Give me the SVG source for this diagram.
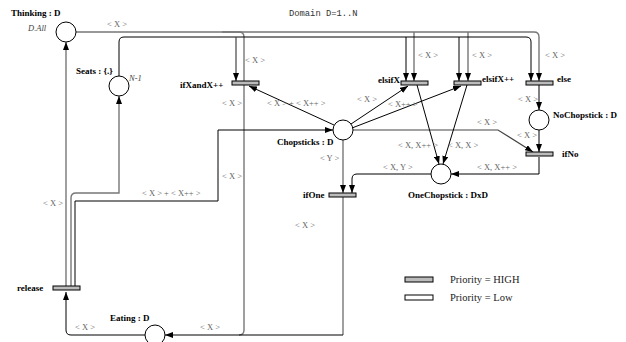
<svg xmlns="http://www.w3.org/2000/svg" width="626" height="342" viewBox="0 0 626 342">
<style>
.pl{fill:#fff;stroke:#000;stroke-width:1}
.tr{fill:#bbb;stroke:#000;stroke-width:1}
.lo{fill:#fff;stroke:#000;stroke-width:1}
.b{font-family:"Liberation Serif",serif;font-weight:bold;font-size:9px;fill:#000}
.i{font-family:"Liberation Serif",serif;font-style:italic;font-size:8.5px;fill:#444}
.l{font-family:"Liberation Serif",serif;font-size:8.5px;fill:#666}
.m{font-family:"Liberation Mono",monospace;font-size:8.8px;fill:#333}
.lg{font-family:"Liberation Serif",serif;font-size:10.5px;fill:#222}
.g{fill:none;stroke:#777;stroke-width:1.4}
.k{fill:none;stroke:#000;stroke-width:1}
.d{fill:none;stroke:#444;stroke-width:1.2}
</style>
<defs>
<marker id="a" viewBox="0 0 8 6" refX="8" refY="3" markerWidth="8" markerHeight="6" markerUnits="userSpaceOnUse" orient="auto">
<path d="M0,0 L8,3 L0,6 z" fill="#000"/>
</marker>
</defs>
<rect width="626" height="342" fill="#fff"/>
<text class="m" x="289" y="16">Domain D=1..N</text>
<g id="connectors">
<path class="g" d="M76 32 H534 Q539 32 539 37 V81" marker-end="url(#a)"/>
<path class="g" d="M414 32 V81" marker-end="url(#a)"/>
<path class="g" d="M468 32 V81" marker-end="url(#a)"/>
<path class="g" d="M222 32 H239 Q244 32 244 37 V330 Q244 335 239 335"/>
<path class="k" d="M119 76 V42 Q119 37 124 37 H526 Q531 37 531 42 V81" marker-end="url(#a)"/>
<path class="d" d="M236 37 V81" marker-end="url(#a)"/>
<path class="k" d="M406 37 V81" marker-end="url(#a)"/>
<path class="k" d="M459 37 V81" marker-end="url(#a)"/>
<path class="g" d="M66 286 V42" marker-end="url(#a)"/>
<path class="g" d="M71 286 V198 Q71 193 76 193 H119 V96" marker-end="url(#a)"/>
<path class="k" d="M75 286 V201 H218 V130 H333" marker-end="url(#a)"/>
<path class="k" d="M145 335 H71 Q66 335 66 330 V292" marker-end="url(#a)"/>
<path class="g" d="M343 197 V335"/>
<path class="k" d="M343 335 H165" marker-end="url(#a)"/>
<path class="k" d="M334 125 L249 86" marker-end="url(#a)"/>
<path class="k" d="M351 124 L408 86" marker-end="url(#a)"/>
<path class="k" d="M352 128 L461 86" marker-end="url(#a)"/>
<path class="d" d="M353 130 H498 L533 152" marker-end="url(#a)"/>
<path class="g" d="M343 140 V193" marker-end="url(#a)"/>
<path class="k" d="M417 85 L439 164" marker-end="url(#a)"/>
<path class="k" d="M467 85 L443 164" marker-end="url(#a)"/>
<path class="k" d="M431 174 H357 Q352 174 352 179 V193" marker-end="url(#a)"/>
<path class="k" d="M539 157 V174 H451" marker-end="url(#a)"/>
<path class="k" d="M539 85 V110" marker-end="url(#a)"/>
<path class="k" d="M539 130 V152" marker-end="url(#a)"/>
<text class="l" x="107" y="27">&lt; X &gt;</text>
<text class="l" x="245" y="63">&lt; X &gt;</text>
<text class="l" x="418" y="58">&lt; X &gt;</text>
<text class="l" x="472" y="58">&lt; X &gt;</text>
<text class="l" x="545" y="58">&lt; X &gt;</text>
<text class="l" x="222" y="106">&lt; X &gt;</text>
<text class="l" x="267" y="106">&lt; X &gt; + &lt; X++ &gt;</text>
<text class="l" x="357" y="102">&lt; X &gt;</text>
<text class="l" x="388" y="107">&lt; X++ &gt;</text>
<text class="l" x="518" y="102">&lt; X &gt;</text>
<text class="l" x="477" y="125">&lt; X &gt;</text>
<text class="l" x="517" y="138">&lt; X &gt;</text>
<text class="l" x="398" y="148">&lt; X, X++ &gt;</text>
<text class="l" x="448" y="148">&lt; X, X &gt;</text>
<text class="l" x="383" y="170">&lt; X, Y &gt;</text>
<text class="l" x="477" y="170">&lt; X, X++ &gt;</text>
<text class="l" x="320" y="161">&lt; Y &gt;</text>
<text class="l" x="222" y="179">&lt; X &gt;</text>
<text class="l" x="142" y="196">&lt; X &gt; + &lt; X++ &gt;</text>
<text class="l" x="43" y="206">&lt; X &gt;</text>
<text class="l" x="295" y="228">&lt; X &gt;</text>
<text class="l" x="75" y="330">&lt; X &gt;</text>
<text class="l" x="200" y="330">&lt; X &gt;</text>
</g>
<g id="Thinking">
<circle class="pl" cx="66" cy="32" r="10"/>
<text class="b" x="11" y="16">Thinking : D</text>
<text class="i" x="28" y="31">D.All</text>
</g>
<g id="Seats">
<circle class="pl" cx="119" cy="86" r="10"/>
<text class="b" x="76" y="74">Seats : {.}</text>
<text class="i" x="129" y="81">N-1</text>
</g>
<g id="Chopsticks">
<circle class="pl" cx="343" cy="130" r="10"/>
<text class="b" x="277" y="145">Chopsticks : D</text>
</g>
<g id="NoChopstick">
<circle class="pl" cx="539" cy="120" r="10"/>
<text class="b" x="553" y="118">NoChopstick : D</text>
</g>
<g id="OneChopstick">
<circle class="pl" cx="441" cy="174" r="10"/>
<text class="b" x="408" y="198">OneChopstick : DxD</text>
</g>
<g id="Eating">
<circle class="pl" cx="155" cy="335" r="10"/>
<text class="b" x="110" y="321">Eating : D</text>
</g>
<g id="ifXandX">
<rect class="tr" x="232" y="81" width="27" height="4"/>
<text class="b" x="180" y="88">ifXandX++</text>
</g>
<g id="elsifX">
<rect class="tr" x="401" y="81" width="27" height="4"/>
<text class="b" x="378" y="83">elsifX</text>
</g>
<g id="elsifXpp">
<rect class="tr" x="454" y="81" width="27" height="4"/>
<text class="b" x="482" y="82">elsifX++</text>
</g>
<g id="else">
<rect class="tr" x="526" y="81" width="27" height="4"/>
<text class="b" x="557" y="82">else</text>
</g>
<g id="ifNo">
<rect class="tr" x="526" y="152" width="27" height="4"/>
<text class="b" x="562" y="157">ifNo</text>
</g>
<g id="ifOne">
<rect class="tr" x="329" y="193" width="27" height="4"/>
<text class="b" x="303" y="198">ifOne</text>
</g>
<g id="release">
<rect class="tr" x="53" y="286" width="27" height="4"/>
<text class="b" x="17" y="291">release</text>
</g>
<g id="legend">
<rect class="tr" x="405" y="277" width="28" height="5"/>
<text class="lg" x="450" y="283">Priority = HIGH</text>
<rect class="lo" x="405" y="295" width="28" height="5"/>
<text class="lg" x="450" y="301">Priority = Low</text>
</g>
</svg>
